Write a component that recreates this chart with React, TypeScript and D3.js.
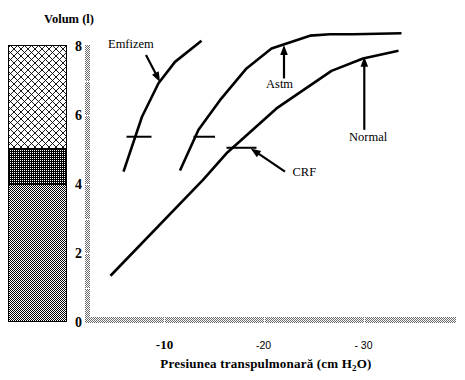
import React from "react";
import * as d3 from "d3";

// ---- data (pressure in cm H2O, volume in litres) ----
const emfizemP = [-6.0, -7.85, -9.5, -11.15, -13.8];
const emfizemV = [4.36, 5.95, 6.92, 7.54, 8.15];
const astmP = [-11.65, -13.5, -15.65, -18.3, -20.8, -24.65, -26.65, -29.0, -33.8];
const astmV = [4.39, 5.57, 6.43, 7.35, 7.93, 8.3, 8.34, 8.34, 8.37];
const normalP = [-4.7, -13.95, -16.3, -21.3, -26.8, -29.95, -33.5];
const normalV = [1.34, 4.12, 4.89, 6.19, 7.28, 7.64, 7.86];

// CRF marks: [pStart, pEnd, volume]
const crfMarks: [number, number, number][] = [
  [-6.3, -8.8, 5.37],
  [-13.0, -15.15, 5.37],
  [-16.3, -19.3, 5.05],
];

// annotations: label, arrow from (p,v) to (p,v), label position (p,v)
const annLabels = ["Emfizem", "Astm", "Normal", "CRF"];
const annFrom: [number, number][] = [[-8.25, 7.74], [-22.05, 7.06], [-30.08, 5.57], [-22.15, 4.36]];
const annTo: [number, number][] = [[-9.65, 6.96], [-22.05, 8.03], [-30.08, 7.69], [-18.72, 5.03]];
const annText: [number, number][] = [[-4.45, 7.93], [-20.25, 6.78], [-28.55, 5.25], [-22.9, 4.23]];

// lung volume compartments (bar at left): [from, to]
const volSegments: [number, number, string][] = [
  [5.05, 8, "hatch"],
  [4.0, 5.05, "dark"],
  [0, 4.0, "light"],
];

const yTicks = [0, 2, 4, 6, 8];
const yGaps = [1, 2, 3, 4, 5, 6, 7];
const xTicks = [-10, -20, -30];
const xTickLabels = ["-10", "-20", "- 30"];

const serif = "Liberation Serif, Times New Roman, serif";
const sans = "Liberation Sans, Arial, sans-serif";

export default function App() {
  const W = 465, H = 380;
  const x = d3.scaleLinear().domain([0, -40]).range([63.5, 463.5]);
  const y = d3.scaleLinear().domain([0, 8]).range([322, 46]);

  const line = d3
    .line<[number, number]>()
    .x((d) => x(d[0]))
    .y((d) => y(d[1]))
    .curve(d3.curveLinear);

  const zip = (a: number[], b: number[]) => a.map((v, i) => [v, b[i]] as [number, number]);

  const curves = [zip(emfizemP, emfizemV), zip(astmP, astmV), zip(normalP, normalV)];

  const arrow = (from: [number, number], to: [number, number], key: number) => {
    const x1 = x(from[0]), y1 = y(from[1]), x2 = x(to[0]), y2 = y(to[1]);
    const dx = x2 - x1, dy = y2 - y1;
    const len = Math.hypot(dx, dy);
    const ux = dx / len, uy = dy / len;
    const hl = 10, hw = 3.8;
    const bx = x2 - ux * hl, by = y2 - uy * hl;
    const pts = [
      [x2, y2],
      [bx - uy * hw, by + ux * hw],
      [bx + uy * hw, by - ux * hw],
    ];
    return (
      <g key={key}>
        <line x1={x1} y1={y1} x2={bx + ux * 2} y2={by + uy * 2} stroke="#000" strokeWidth={2.2} />
        <polygon points={pts.map((p) => p.join(",")).join(" ")} fill="#000" />
      </g>
    );
  };

  const boxX = 8, boxW = 58;

  return (
    <svg width={W} height={H} style={{ position: "absolute", left: 0, top: 0, background: "#fff" }}>
      <defs>
        <pattern id="hatch" patternUnits="userSpaceOnUse" width={7} height={7}>
          <rect width={7} height={7} fill="#fff" />
          <path d="M0,0 L7,7 M7,0 L0,7" stroke="#000" strokeWidth={0.9} />
        </pattern>
        <pattern id="dark" patternUnits="userSpaceOnUse" width={2} height={2}>
          <rect width={2} height={2} fill="#000" />
          <rect x={0} y={0} width={1} height={1} fill="#fff" />
        </pattern>
        <pattern id="light" patternUnits="userSpaceOnUse" width={2} height={2}>
          <rect width={2} height={2} fill="#fff" />
          <rect x={0} y={0} width={1} height={1} fill="#000" />
          <rect x={1} y={1} width={1} height={1} fill="#000" />
        </pattern>
        <pattern id="axisp" patternUnits="userSpaceOnUse" width={2} height={2}>
          <rect width={2} height={2} fill="#fff" />
          <rect x={0} y={0} width={1} height={1} fill="#6a6a6a" />
          <rect x={1} y={1} width={1} height={1} fill="#6a6a6a" />
        </pattern>
      </defs>

      {/* left volume bar */}
      {volSegments.map(([a, b, pat], i) => (
        <rect
          key={i}
          x={boxX}
          y={Math.round(y(b))}
          width={boxW}
          height={Math.round(y(a)) - Math.round(y(b))}
          fill={`url(#${pat})`}
          shapeRendering="crispEdges"
        />
      ))}
      <rect
        x={boxX + 0.5}
        y={Math.round(y(8)) - 0.5}
        width={boxW}
        height={Math.round(y(0)) - Math.round(y(8))}
        fill="none"
        stroke="#000"
        strokeWidth={1}
        shapeRendering="crispEdges"
      />
      {[4.0, 5.05].map((v, i) => (
        <line key={i} x1={boxX} x2={boxX + boxW} y1={Math.round(y(v)) + 0.5} y2={Math.round(y(v)) + 0.5} stroke="#000" strokeWidth={1} shapeRendering="crispEdges" />
      ))}

      {/* axes as dotted gray bars */}
      <rect x={85} y={45} width={5} height={278} fill="url(#axisp)" shapeRendering="crispEdges" />
      <rect x={85} y={317} width={371} height={6} fill="url(#axisp)" shapeRendering="crispEdges" />
      {yGaps.map((v) => (
        <rect key={v} x={85} y={Math.round(y(v))} width={5} height={1} fill="#fff" shapeRendering="crispEdges" />
      ))}
      {xTicks.map((v) => (
        <rect key={v} x={Math.round(x(v))} y={317} width={1} height={6} fill="#fff" shapeRendering="crispEdges" />
      ))}

      {/* y tick labels */}
      {yTicks.map((v) => (
        <text key={v} x={82} y={y(v) + 5} textAnchor="end" style={{ fontFamily: serif }} fontWeight="bold" fontSize={14}>
          {v}
        </text>
      ))}
      {/* x tick labels */}
      {xTicks.map((v, i) => (
        <text
          key={v}
          x={x(v) + (i === 0 ? 1 : 0)}
          y={349}
          textAnchor="middle"
          style={{ fontFamily: i === 0 ? serif : sans }}
          fontWeight={i === 0 ? "bold" : "normal"}
          fontSize={i === 0 ? 13 : 10.5}
        >
          {xTickLabels[i]}
        </text>
      ))}

      {/* axis titles */}
      <text x={69} y={23} textAnchor="middle" style={{ fontFamily: serif }} fontWeight="bold" fontSize={12.5}>
        Volum (l)
      </text>
      <text x={266} y={368} textAnchor="middle" style={{ fontFamily: serif }} fontWeight="bold" fontSize={13} letterSpacing={0.2}>
        Presiunea transpulmonară (cm H<tspan fontSize={9} dy={3}>2</tspan>
        <tspan dy={-3}>O)</tspan>
      </text>

      {/* curves */}
      {curves.map((c, i) => (
        <path key={i} d={line(c) || ""} fill="none" stroke="#000" strokeWidth={2.6} strokeLinejoin="round" />
      ))}

      {/* CRF marks */}
      {crfMarks.map(([a, b, v], i) => (
        <line key={i} x1={x(a)} x2={x(b)} y1={y(v)} y2={y(v)} stroke="#000" strokeWidth={2} />
      ))}

      {/* annotations */}
      {annFrom.map((f, i) => arrow(f, annTo[i], i))}
      {annLabels.map((t, i) => (
        <text key={t} x={x(annText[i][0])} y={y(annText[i][1])} style={{ fontFamily: serif }} fontSize={12.5}>
          {t}
        </text>
      ))}
    </svg>
  );
}
